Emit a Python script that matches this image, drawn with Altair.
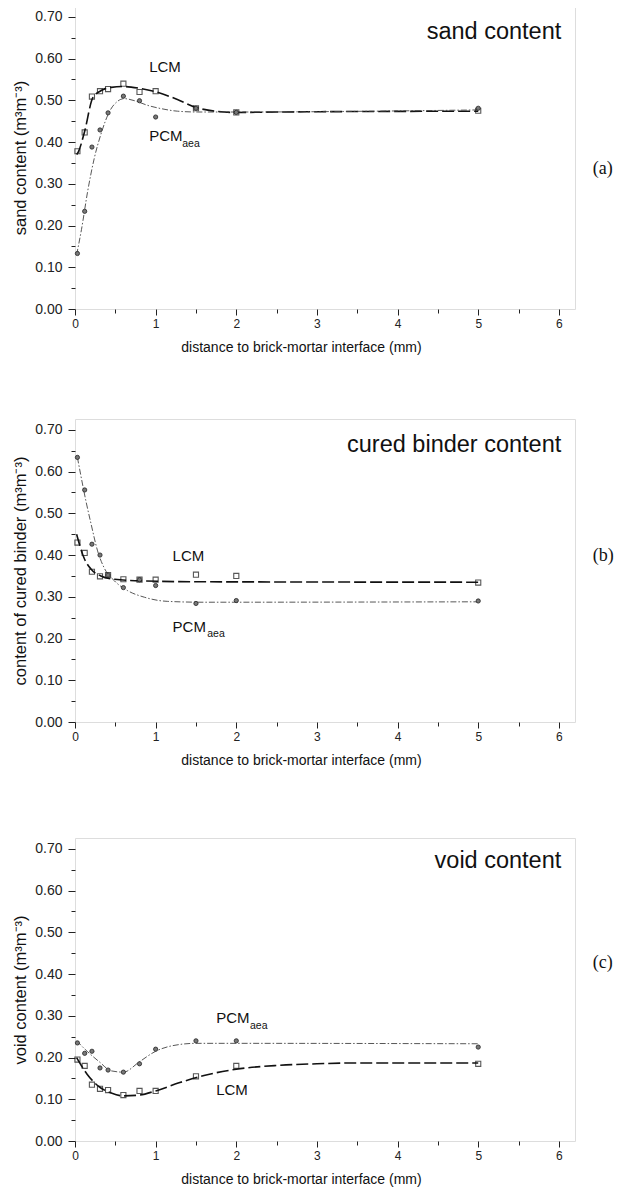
import altair as alt
import pandas as pd

# ---------------- data ----------------
x_pts = [0.03, 0.12, 0.21, 0.31, 0.41, 0.6, 0.8, 1.0, 1.5, 2.0, 5.0]

# (a) sand content
a_lcm = [0.378, 0.423, 0.509, 0.522, 0.527, 0.540, 0.520, 0.522, 0.481, 0.471, 0.475]
a_pcm = [0.133, 0.234, 0.388, 0.429, 0.470, 0.510, 0.499, 0.460, 0.481, 0.471, 0.481]
a_lcm_cx = [0.02, 0.04, 0.12, 0.22, 0.32, 0.45, 0.61, 0.82, 1.01, 1.27, 1.5, 1.73, 2.0, 2.5, 5.0]
a_lcm_cy = [0.37, 0.376, 0.426, 0.506, 0.523, 0.531, 0.533, 0.528, 0.520, 0.502, 0.483, 0.474, 0.471, 0.472, 0.474]
a_pcm_cx = [0.02, 0.08, 0.157, 0.24, 0.32, 0.43, 0.53, 0.61, 0.74, 0.9, 1.07, 1.27, 1.52, 2.0, 5.0]
a_pcm_cy = [0.13, 0.19, 0.282, 0.362, 0.418, 0.474, 0.498, 0.504, 0.499, 0.488, 0.480, 0.474, 0.472, 0.472, 0.477]

# (b) cured binder content
b_lcm = [0.43, 0.405, 0.360, 0.349, 0.352, 0.342, 0.341, 0.341, 0.353, 0.350, 0.334]
b_pcm = [0.634, 0.556, 0.426, 0.400, 0.352, 0.322, 0.341, 0.327, 0.284, 0.291, 0.290]
b_lcm_cx = [0.02, 0.11, 0.2, 0.32, 0.49, 0.86, 1.5, 5.0]
b_lcm_cy = [0.45, 0.394, 0.366, 0.350, 0.342, 0.338, 0.336, 0.335]
b_pcm_cx = [0.03, 0.07, 0.136, 0.2, 0.28, 0.36, 0.49, 0.65, 0.86, 1.15, 1.6, 5.0]
b_pcm_cy = [0.634, 0.593, 0.529, 0.474, 0.41, 0.370, 0.338, 0.315, 0.299, 0.289, 0.287, 0.288]

# (c) void content
c_lcm = [0.195, 0.18, 0.135, 0.125, 0.122, 0.11, 0.12, 0.12, 0.155, 0.18, 0.185]
c_pcm = [0.235, 0.21, 0.215, 0.175, 0.17, 0.165, 0.185, 0.22, 0.24, 0.24, 0.225]
c_lcm_cx = [0.02, 0.15, 0.3, 0.45, 0.6, 0.8, 1.0, 1.3, 1.6, 2.0, 2.5, 3.0, 3.5, 5.0]
c_lcm_cy = [0.2, 0.16, 0.13, 0.115, 0.108, 0.11, 0.12, 0.14, 0.157, 0.172, 0.181, 0.185, 0.187, 0.187]
c_pcm_cx = [0.02, 0.15, 0.3, 0.45, 0.6, 0.8, 1.0, 1.2, 1.5, 2.0, 5.0]
c_pcm_cy = [0.24, 0.215, 0.19, 0.168, 0.165, 0.19, 0.215, 0.228, 0.234, 0.234, 0.233]

x_major = [0, 1, 2, 3, 4, 5, 6]
x_minor = [0.5, 1.5, 2.5, 3.5, 4.5, 5.5]
y_major = [0.0, 0.1, 0.2, 0.3, 0.4, 0.5, 0.6, 0.7]
y_minor = [0.05, 0.15, 0.25, 0.35, 0.45, 0.55, 0.65]

x_title = "distance to brick-mortar interface (mm)"
titles = ["sand content (m³m⁻³)", "content of cured binder (m³m⁻³)", "void content (m³m⁻³)"]
headers = ["sand content", "cured binder content", "void content"]
header_size = [23.5, 23.5, 23.5]
tags = ["(a)", "(b)", "(c)"]
header_y = [0.648, 0.647, 0.655]
lcm_lab = [(0.92, 0.569), (1.21, 0.386), (1.75, 0.110)]
pcm_lab = [(0.92, 0.402), (1.21, 0.215), (1.75, 0.282)]
sub_lab = [(1.33, 0.389), (1.64, 0.203), (2.17, 0.269)]
tag_pos = [(6.42, 0.323), (6.42, 0.386), (6.42, 0.414)]

FONT = "Liberation Sans"
XS = alt.Scale(domain=[0, 6.2], nice=False, zero=False)
YS = alt.Scale(domain=[0, 0.726], nice=False, zero=False)


def panel(i, lcm, pcm, lcx, lcy, pcx, pcy):
    pts = pd.DataFrame({"x": x_pts * 2, "y": lcm + pcm,
                        "s": ["LCM"] * len(x_pts) + ["PCM"] * len(x_pts)})
    cl = pd.DataFrame({"x": lcx, "y": lcy})
    cp = pd.DataFrame({"x": pcx, "y": pcy})

    xmaj = alt.X("x:Q", scale=XS, axis=alt.Axis(
        values=x_major, tickSize=6, labelPadding=3, labelFontSize=12, labelFont=FONT,
        labelColor="#222", domain=False, grid=False, title=x_title, titleFont=FONT,
        titleFontSize=14, titleFontWeight="normal", titleColor="#111", titlePadding=11,
        titleX=226, tickColor="#222", labelFlush=False))
    ymaj = alt.Y("y:Q", scale=YS, axis=alt.Axis(
        values=y_major, format=".2f", tickSize=7, labelPadding=6, labelFontSize=14,
        labelFont=FONT, labelColor="#222", domain=False, grid=False, title=titles[i],
        titleFont=FONT, titleFontSize=16.5, titleFontWeight="normal", titleColor="#111",
        titlePadding=6, tickColor="#222", labelFlush=False))

    line_l = alt.Chart(cl).mark_line(
        interpolate="monotone", color="#111", strokeWidth=1.6, strokeDash=[12, 4]
    ).encode(x=xmaj, y=ymaj)
    line_p = alt.Chart(cp).mark_line(
        interpolate="monotone", color="#444", strokeWidth=0.9, strokeDash=[6, 2, 1.5, 2]
    ).encode(x=alt.X("x:Q", scale=XS, axis=None), y=alt.Y("y:Q", scale=YS, axis=None))

    sq = alt.Chart(pts).transform_filter("datum.s == 'LCM'").mark_point(
        shape="square", filled=False, color="#111", size=26, strokeWidth=1.1
    ).encode(x=alt.X("x:Q", scale=XS, axis=None), y=alt.Y("y:Q", scale=YS, axis=None))
    ci = alt.Chart(pts).transform_filter("datum.s == 'PCM'").mark_point(
        shape="circle", filled=True, fill="#777", stroke="#222", strokeWidth=0.8,
        size=18, opacity=1
    ).encode(x=alt.X("x:Q", scale=XS, axis=None), y=alt.Y("y:Q", scale=YS, axis=None))

    minor = alt.Chart(pd.DataFrame({"x": [0.0], "y": [0.0]})).mark_point(opacity=0).encode(
        x=alt.X("x:Q", scale=XS, axis=alt.Axis(
            values=x_minor, tickSize=4, labels=False, domain=False, grid=False,
            title=None, orient="bottom", tickColor="#222")),
        y=alt.Y("y:Q", scale=YS, axis=alt.Axis(
            values=y_minor, tickSize=4, labels=False, domain=False, grid=False,
            title=None, orient="left", tickColor="#222")))

    txt = pd.DataFrame({
        "x": [6.03, lcm_lab[i][0], pcm_lab[i][0], sub_lab[i][0], tag_pos[i][0]],
        "y": [header_y[i], lcm_lab[i][1], pcm_lab[i][1], sub_lab[i][1], tag_pos[i][1]],
        "t": [headers[i], "LCM", "PCM", "aea", tags[i]],
        "k": ["h", "l", "l", "s", "g"],
    })
    ex = alt.X("x:Q", scale=XS, axis=None)
    ey = alt.Y("y:Q", scale=YS, axis=None)
    t_head = alt.Chart(txt).transform_filter("datum.k == 'h'").mark_text(
        align="right", baseline="alphabetic", font=FONT, fontSize=header_size[i],
        color="#111"
    ).encode(x=ex, y=ey, text="t:N")
    t_lab = alt.Chart(txt).transform_filter("datum.k == 'l'").mark_text(
        align="left", baseline="alphabetic", font=FONT, fontSize=15, color="#111"
    ).encode(x=ex, y=ey, text="t:N")
    t_sub = alt.Chart(txt).transform_filter("datum.k == 's'").mark_text(
        align="left", baseline="alphabetic", font=FONT, fontSize=10.5, color="#111"
    ).encode(x=ex, y=ey, text="t:N")
    t_tag = alt.Chart(txt).transform_filter("datum.k == 'g'").mark_text(
        align="left", baseline="alphabetic", font="Liberation Serif", fontSize=18,
        color="#111"
    ).encode(x=ex, y=ey, text="t:N")

    return alt.layer(line_l, line_p, sq, ci, minor, t_head, t_lab, t_sub, t_tag).resolve_axis(
        x="independent", y="independent").properties(width=500, height=303)


p1 = panel(0, a_lcm, a_pcm, a_lcm_cx, a_lcm_cy, a_pcm_cx, a_pcm_cy)
p2 = panel(1, b_lcm, b_pcm, b_lcm_cx, b_lcm_cy, b_pcm_cx, b_pcm_cy)
p3 = panel(2, c_lcm, c_pcm, c_lcm_cx, c_lcm_cy, c_pcm_cx, c_pcm_cy)

top_two = alt.vconcat(p1, p2, spacing=63)
chart = alt.vconcat(top_two, p3, spacing=69).properties(
    padding={"left": 4, "top": -3, "right": 0, "bottom": 0}
).configure_view(stroke="#111", strokeWidth=1.5).configure(background="white")

chart.save("out.html", embed_options={"renderer": "svg", "actions": False})
